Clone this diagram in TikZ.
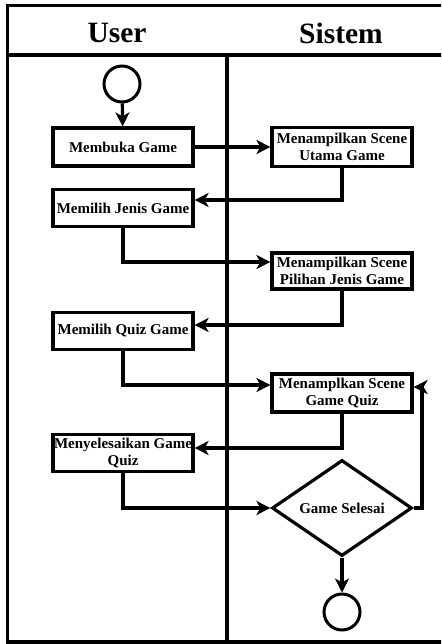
\documentclass[tikz,border=0pt]{standalone}
\usepackage{fontspec}
\setmainfont{Liberation Serif}
\usetikzlibrary{shapes.geometric,arrows.meta}

\tikzset{
  lane/.style={line width=3.3pt},
  actbox/.style={draw, line width=3.2pt, rectangle, minimum width=140pt,
    inner sep=0pt, align=center,
    font=\fontsize{15}{17}\selectfont\bfseries},
  decide/.style={draw, line width=3.2pt, diamond, minimum width=140pt,
    minimum height=96pt, inner sep=0pt,
    font=\fontsize{15}{17}\selectfont\bfseries},
  terminal/.style={draw, line width=3pt, circle, minimum size=36pt, inner sep=0pt},
  flow/.style={line width=3.2pt, -{Stealth[length=14pt,width=14pt,inset=4pt]}},
  header/.style={font=\fontsize{29.5}{32}\selectfont\bfseries}
}

\begin{document}
\begin{tikzpicture}[x=1pt, y=-1pt]
  \clip (0,0) rectangle (441,644);

  % swimlane frame
  \draw[lane] (7.5,5.5) rectangle (460,642);
  \draw[lane] (7.5,55) -- (460,55);
  \draw[lane] (227,55) -- (227,642);
  \node[header] (hUser) at (117,33) {User};
  \node[header] (hSistem) at (341,33) {Sistem};

  % activity nodes
  \node[terminal] (start) at (122,84) {};
  \node[actbox, minimum height=38pt] (b1) at (123,147) {Membuka Game};
  \node[actbox, minimum height=39pt] (s1) at (342,147) {Menampilkan Scene\\Utama Game};
  \node[actbox, minimum height=37pt] (b2) at (123,208) {Memilih Jenis Game};
  \node[actbox, minimum height=36pt] (s2) at (342,271) {Menampilkan Scene\\Pilihan Jenis Game};
  \node[actbox, minimum height=37pt] (b3) at (123,331) {Memilih Quiz Game};
  \node[actbox, minimum height=38pt] (s3) at (342,393) {Menamplkan Scene\\Game Quiz};
  \node[actbox, minimum height=37pt] (b4) at (123,453) {Menyelesaikan Game\\Quiz};
  \node[decide] (d) at (342,508) {Game Selesai};
  \node[terminal] (finish) at (342,612) {};
  \coordinate (loop) at (422,508);

  % control flow
  \draw[flow] (start) -- (b1);
  \draw[flow] (b1) -- (s1);
  \draw[flow] (s1.south) |- (b2.east |- 0,200);
  \draw[flow] (b2.south) |- (s2.west |- 0,262);
  \draw[flow] (s2.south) |- (b3.east |- 0,325);
  \draw[flow] (b3.south) |- (s3.west |- 0,385);
  \draw[flow] (s3.south) |- (b4.east |- 0,448);
  \draw[flow] (b4.south) |- (d.west);
  \draw[flow] (d.east) -- (loop) |- (s3.east |- 0,387);
  \draw[flow] (d.south) -- (finish);
\end{tikzpicture}
\end{document}
